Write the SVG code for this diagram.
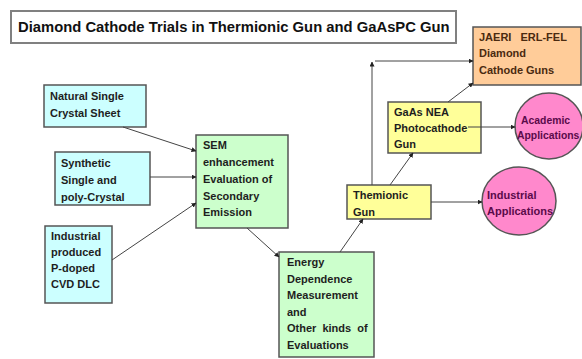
<svg xmlns="http://www.w3.org/2000/svg" width="582" height="359" viewBox="0 0 582 359">
<defs>
<marker id="ah" viewBox="0 0 10 10" refX="9" refY="5" markerWidth="5" markerHeight="5" orient="auto" markerUnits="userSpaceOnUse">
<path d="M0,0 L10,5 L0,10 z" fill="#222"/>
</marker>
<style>
text{font-family:"Liberation Sans",Arial,sans-serif;font-weight:bold;font-size:11px;fill:#1e1e1e}
.title{font-size:14.8px;fill:#111}
.box{stroke:#555;stroke-width:1.5}
.cyan{fill:#ccffff}
.green{fill:#ccffcc}
.yellow{fill:#ffff99}
.orange{fill:#ffcc99}
.pink{fill:#ff88cc}
.purple{fill:#5a0a4a}
.brown{fill:#4a2a10}
.small{font-size:10.4px}
.conn line{stroke:#444;stroke-width:1;fill:none;marker-end:url(#ah)}
</style>
</defs>
<rect width="582" height="359" fill="#fff"/>
<g id="title">
<rect x="11" y="11" width="445" height="32" fill="#fff" stroke="#808080" stroke-width="2"/>
<text class="title" x="18" y="32">Diamond Cathode Trials in Thermionic Gun and GaAsPC Gun</text>
</g>
<g id="natural">
<rect class="box cyan" x="44" y="85" width="102" height="42"/>
<text x="50" y="100">Natural Single</text>
<text x="50" y="117">Crystal Sheet</text>
</g>
<g id="synthetic">
<rect class="box cyan" x="55" y="152" width="95" height="53"/>
<text x="61" y="167">Synthetic</text>
<text x="61" y="184">Single and</text>
<text x="61" y="201">poly-Crystal</text>
</g>
<g id="industrial">
<rect class="box cyan" x="45" y="226" width="67" height="77"/>
<text x="51" y="240">Industrial</text>
<text x="51" y="256">produced</text>
<text x="51" y="272">P-doped</text>
<text x="51" y="288">CVD DLC</text>
</g>
<g id="sem">
<rect class="box green" x="196" y="135" width="92" height="93"/>
<text x="203" y="149">SEM</text>
<text x="203" y="166">enhancement</text>
<text x="203" y="183">Evaluation of</text>
<text x="203" y="200">Secondary</text>
<text x="203" y="216">Emission</text>
</g>
<g id="energy">
<rect class="box green" x="279" y="252" width="95" height="105"/>
<text x="287" y="266">Energy</text>
<text x="287" y="283">Dependence</text>
<text x="287" y="299">Measurement</text>
<text x="287" y="316">and</text>
<text x="287" y="332" word-spacing="3">Other kinds of</text>
<text x="287" y="349">Evaluations</text>
</g>
<g id="themionic">
<rect class="box yellow" x="347" y="185" width="84" height="34"/>
<text x="353" y="199">Themionic</text>
<text x="353" y="216">Gun</text>
</g>
<g id="gaas">
<rect class="box yellow" x="388" y="102" width="93" height="51"/>
<text x="394" y="116">GaAs NEA</text>
<text x="394" y="132">Photocathode</text>
<text x="394" y="148">Gun</text>
</g>
<g id="jaeri">
<rect class="box orange" x="473" y="27" width="108" height="58"/>
<text class="brown" x="479" y="41" word-spacing="6">JAERI ERL-FEL</text>
<text class="brown" x="479" y="57">Diamond</text>
<text class="brown" x="479" y="74">Cathode Guns</text>
</g>
<g id="academic">
<ellipse class="box pink" cx="549" cy="126" rx="34" ry="33"/>
<text class="purple small" x="521" y="124">Academic</text>
<text class="purple small" x="517" y="139">Applications</text>
</g>
<g id="industrialapp">
<ellipse class="box pink" cx="519" cy="201" rx="37" ry="34"/>
<text class="purple" x="487" y="199">Industrial</text>
<text class="purple" x="487" y="215">Applications</text>
</g>
<g id="connectors" class="conn">
<line x1="123" y1="127" x2="196" y2="151"/>
<line x1="150" y1="177" x2="196" y2="177"/>
<line x1="112" y1="260" x2="196" y2="203"/>
<line x1="247" y1="228" x2="279" y2="257"/>
<line x1="340" y1="252" x2="363" y2="219"/>
<line x1="390" y1="185" x2="413" y2="153"/>
<line x1="431" y1="202" x2="482" y2="202"/>
<line x1="448" y1="102" x2="473" y2="83"/>
<line x1="468" y1="127" x2="515" y2="127"/>
<line x1="372" y1="185" x2="372" y2="62"/>
<line x1="375" y1="61" x2="473" y2="61"/>
</g>
</svg>
